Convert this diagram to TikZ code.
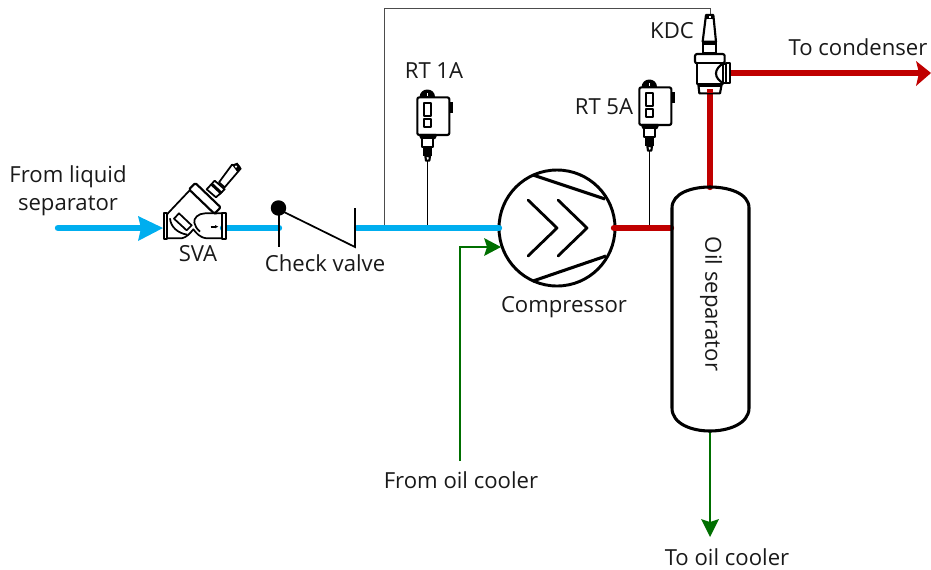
\documentclass[tikz,border=0pt]{standalone}
\usepackage{fontspec}
\setmainfont{Open Sans}
\usetikzlibrary{arrows.meta}
\definecolor{blueline}{HTML}{00AEEF}
\definecolor{redline}{HTML}{C00000}
\definecolor{greenline}{HTML}{006F00}
\tikzset{
  x=0.75pt,y=-0.75pt,
  lbl/.style={font=\fontsize{16.6pt}{21pt}\selectfont,text=black!90,inner sep=0pt,align=center},
  sym/.style={draw=black,line width=1.6pt,line join=round},
  svasym/.style={draw=black,line width=1.3pt,line join=round},
  thick1/.style={draw=black,line width=0.75pt},
  bluepipe/.style={draw=blueline,line width=4.8pt,line cap=round},
  redpipe/.style={draw=redline,line width=4.8pt,line cap=round},
  greenpipe/.style={draw=greenline,line width=1.6pt},
  zoomed/.style={x=0.25pt,y=-0.25pt},
  pswitch/.pic={
    \begin{scope}[zoomed]
      \draw[sym,fill=black] (62,82) .. controls (62,55) and (102,55) .. (102,82) -- cycle;
      \draw[sym,line width=0.8pt,fill=white] (78,68) -- (86,68) -- (86,80) -- (78,80) -- cycle;
      \fill[black] (146,95) rectangle (159,128);
      \draw[sym,fill=white,rounded corners=1.5pt] (52,82) rectangle (148,195);
      \draw[sym] (73,98) rectangle (92,138) (73,146) rectangle (92,172);
      \draw[sym,fill=black] (60,195) -- (108,195) -- (104,204) -- (64,204) -- cycle;
      \draw[sym,fill=white] (66,204) rectangle (100,232);
      \fill[black] (68,230) rectangle (97,258);
      \draw[sym,fill=white] (76,258) -- (90,258) -- (88,272) -- (78,272) -- cycle;
    \end{scope}
  }
}
\begin{document}
\begin{tikzpicture}
\useasboundingbox (0,0) rectangle (931,569);
% named points
\coordinate (liqstart) at (58,228);
\coordinate (liqtip) at (163,228);
\coordinate (svaout) at (223,228);
\coordinate (cvin) at (279,228);
\coordinate (cvout) at (357,228);
\coordinate (comptee) at (384,228);
\coordinate (rt1tee) at (427.5,228);
\coordinate (rt1probe) at (427.5,160);
\coordinate (rt5tee) at (649,228);
\coordinate (rt5probe) at (649,150);
\coordinate (c1) at (384,8);
\coordinate (c2) at (710,8);
\coordinate (kdctop) at (710,16);
\coordinate (kdcbot) at (710,93);
\coordinate (kdcout) at (728,73);
\coordinate (condtip) at (931,73);
\coordinate (septop) at (710,187);
\coordinate (sepbot) at (710,432);
\coordinate (sepin) at (671,228);
\coordinate (compin) at (499,228);
\coordinate (compout) at (614,228);
\coordinate (comoilstart) at (460,461);
\coordinate (comoilbend) at (460,247);
\coordinate (comoiltip) at (501,247);
\coordinate (oiltip) at (710,537);
\node[circle,draw=black,line width=2.2pt,minimum size=87pt,inner sep=0pt] (comp) at (557,228) {};
% thin lines
\draw[black!70,line width=0.6pt] (comptee) -- (c1) -- (c2) -- (kdctop);
\draw[thick1] (rt1probe) -- (rt1tee);
\draw[thick1] (rt5probe) -- (rt5tee);
% blue pipes
\draw[bluepipe] (liqstart) -- (145,228);
\fill[blueline] (liqtip) -- (138,216) -- (141,228) -- (138,241) -- cycle;
\draw[bluepipe] (svaout) -- (cvin);
\draw[bluepipe] (cvout) -- (compin);
% red pipes
\draw[redpipe] (compout) -- (sepin);
\draw[redpipe] (septop) -- (kdcbot);
\draw[redpipe] (kdcout) -- (920,73);
\fill[redline] (condtip) -- (916,61) -- (919,73) -- (916,86) -- cycle;
% green pipes
\draw[greenpipe] (comoilstart) -- (comoilbend) -- (490,247);
\fill[greenline] (comoiltip) -- (484,238) -- (487,247) -- (484,256) -- cycle;
\draw[greenpipe] (sepbot) -- (710,525);
\fill[greenline] (oiltip) -- (701,519) -- (710,522) -- (719,519) -- cycle;
% compressor internals
\draw[sym,line width=2.3pt] (533,175) -- (605,199) (533,281) -- (606,256);
\draw[sym,line width=2.1pt,line cap=round] (528,200) -- (557,228) -- (528,256) (558,200) -- (587,228) -- (558,256);
% oil separator
\draw[sym,line width=2.3pt] (672,208) .. controls (672,193) and (692,187) .. (710,187) .. controls (728,187) and (749,193) .. (749,208)
  -- (749,408) .. controls (749,424) and (728,431) .. (710,431) .. controls (692,431) and (672,424) .. (672,408) -- cycle;
% check valve
\draw[thick1,line width=1.3pt] (279,208) -- (279,247);
\fill[black] (278.5,208) circle (5.8pt);
\draw[thick1,line width=1.3pt] (284,212) -- (355,247) -- (355,208);
% pressure switches
\pic at (400,70) {pswitch};
\pic at (622,60) {pswitch};
% SVA
\begin{scope}[shift={(150,150)},zoomed]
  \draw[sym,fill=white] (42,188) rectangle (52,268);
  \draw[sym,fill=white] (215,188) rectangle (227,268);
  \draw[svasym] (52,192) -- (65,178) -- (118,122);
  \draw[svasym] (52,265) -- (95,265) .. controls (110,262) and (120,250) .. (130,238) .. controls (140,250) and (148,262) .. (170,265) -- (215,265);
  \draw[svasym] (215,190) -- (165,190) .. controls (145,190) and (130,205) .. (133,218) .. controls (135,228) and (140,236) .. (150,245);
  \draw[svasym] (60,205) .. controls (62,232) and (85,250) .. (112,254);
  \draw[svasym,fill=white] (72,206) -- (87,190) -- (125,226) -- (110,241) -- cycle;
  \draw[sym,fill=white,rounded corners=1pt] (117,118) -- (136,99) -- (212,172) -- (193,191) -- cycle;
  \draw[svasym] (193,191) -- (200,190);
  \draw[svasym,fill=white] (170,118) -- (194,92) -- (224,118) -- (198,142) -- cycle;
  \fill[black] (182,106) -- (188,99) -- (218,127) -- (212,134) -- cycle;
  \draw[svasym,fill=white] (207,97) -- (246,44) -- (272,56) -- (224,112) -- cycle;
  \fill[black] (246,44) -- (262,38) -- (273,52) -- (262,66) -- cycle;
  \fill[white] (258,50) circle (0.9pt);
  \draw[thick1,line width=1.3pt] (182,230) -- (198,230);
  \fill[black] (205,230) -- (195,225) -- (195,235) -- cycle;
\end{scope}
% KDC
\begin{scope}[shift={(640,0)},zoomed]
  \draw[sym,fill=white] (198,45) -- (220,45) -- (228,125) -- (188,125) -- cycle;
  \fill[black] (199,44) rectangle (219,58);
  \fill[white] (206,48) rectangle (212,53);
  \draw[sym,fill=white] (188,125) rectangle (229,160);
  \fill[black] (190,127) rectangle (227,135);
  \draw[sym,fill=white,rounded corners=1.5pt] (165,162) rectangle (254,190);
  \draw[sym,fill=white] (172,190) rectangle (250,253);
  \draw[sym] (250,190) .. controls (236,198) and (228,210) .. (228,220) .. controls (228,232) and (236,242) .. (250,250);
  \draw[sym,fill=white] (258,188) rectangle (270,250);
  \draw[sym] (250,192) -- (258,192) (250,248) -- (258,248);
  \draw[sym,fill=white] (175,253) -- (245,253) -- (240,280) -- (178,280) -- cycle;
  \fill[black] (175,253) rectangle (245,261);
\end{scope}
\draw[redline,line width=4.8pt] (710,89) -- (710,93);
% labels
\node[lbl] (l1) at (68,191) {From liquid\\separator};
\node[lbl] (l2) at (198,254) {SVA};
\node[lbl] (l3) at (325,263) {Check valve};
\node[lbl] (l4) at (434,71) {RT 1A};
\node[lbl] (l5) at (604,107) {RT 5A};
\node[lbl] (l6) at (672,31) {KDC};
\node[lbl] (l7) at (858,47) {To condenser};
\node[lbl] (l8) at (564,307) {Compressor};
\node[lbl,rotate=-90] (l9) at (711,304) {Oil separator};
\node[lbl] (l10) at (461,480) {From oil cooler};
\node[lbl] (l11) at (727,557) {To oil cooler};
\end{tikzpicture}
\end{document}
